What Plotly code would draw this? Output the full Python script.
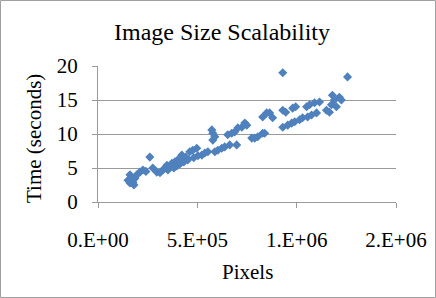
import plotly.graph_objects as go

# Data
pixels = [
    151000, 161000, 161000, 166000, 176000, 181000, 186000, 196000, 211000, 226000,
    241000, 261000, 276000, 296000, 312000, 327000, 337000, 347000, 352000, 362000,
    372000, 382000, 387000, 397000, 402000, 412000, 422000, 432000, 442000, 452000,
    462000, 477000, 482000, 497000, 503000, 523000, 538000, 553000, 573000, 578000,
    578000, 588000, 588000, 603000, 623000, 638000, 653000, 663000, 673000, 688000,
    698000, 704000, 724000, 739000, 749000, 774000, 789000, 804000, 829000, 839000,
    829000, 849000, 864000, 879000, 930000, 930000, 945000, 980000, 995000, 930000,
    955000, 975000, 990000, 1015000, 1030000, 1055000, 1075000, 1100000, 1050000, 1065000,
    1090000, 1115000, 1150000, 1165000, 1175000, 1180000, 1190000, 1200000, 1215000, 1225000,
    1256000,
]
seconds = [
    3.2, 2.8, 4.0, 3.5, 2.9, 2.5, 3.5, 4.0, 4.4, 4.7,
    4.5, 6.6, 5.0, 4.4, 4.3, 4.7, 5.0, 5.4, 4.7, 5.1,
    5.7, 5.0, 5.9, 5.3, 6.2, 5.6, 6.9, 5.9, 6.6, 6.2,
    7.4, 7.6, 6.5, 7.9, 6.8, 6.9, 7.2, 7.4, 10.6, 10.1,
    9.1, 9.6, 7.4, 7.6, 7.9, 8.1, 9.9, 8.4, 10.1, 10.3,
    8.4, 10.9, 11.0, 11.6, 11.3, 9.4, 9.4, 9.6, 10.1, 10.1,
    12.5, 13.1, 13.1, 12.4, 19.0, 13.5, 13.2, 13.8, 14.0, 11.0,
    11.3, 11.6, 11.8, 12.1, 12.4, 12.5, 12.8, 13.1, 14.0, 14.3,
    14.6, 14.7, 13.5, 13.2, 14.3, 15.7, 15.0, 14.0, 15.4, 15.0,
    18.4,
]
x_tick_values = [0, 500000, 1000000, 1500000]
x_tick_labels = ["0.E+00", "5.E+05", "1.E+06", "2.E+06"]
y_tick_values = [0, 5, 10, 15, 20]

FONT = "Liberation Serif, Times New Roman, serif"
GRID = "#9a9a9a"

fig = go.Figure(
    go.Scatter(
        x=pixels,
        y=seconds,
        mode="markers",
        marker=dict(symbol="diamond", size=7, color="#4F81BD", line=dict(width=0)),
        showlegend=False,
    )
)

# plot area: x 98..396 px, y 66..202 px
L, R, T, B = 98, 396, 66, 202
W, H = 436, 298
pw, ph = R - L, B - T

def px(xp):
    return (xp - L) / pw

def py(yp):
    return (B - yp) / ph

fig.update_layout(
    width=W,
    height=H,
    margin=dict(l=L, r=W - R, t=T, b=H - B, pad=0, autoexpand=False),
    paper_bgcolor="white",
    plot_bgcolor="white",
    font=dict(family=FONT, size=20, color="black"),
    title=dict(
        text="Image Size Scalability",
        x=222 / W,
        xanchor="center",
        y=1 - 32 / H,
        yanchor="middle",
        automargin=False,
        font=dict(family=FONT, size=24, color="black"),
    ),
    xaxis=dict(
        range=[0, 1500000],
        tickvals=x_tick_values,
        ticktext=x_tick_labels,
        showgrid=False,
        zeroline=False,
        showline=True,
        linecolor=GRID,
        linewidth=1,
        ticks="outside",
        ticklen=5,
        tickcolor=GRID,
        tickfont=dict(family=FONT, size=21),
        ticklabelstandoff=14,
        automargin=False,
    ),
    yaxis=dict(
        range=[0, 20],
        tickvals=y_tick_values,
        showgrid=True,
        gridcolor=GRID,
        gridwidth=1,
        zeroline=False,
        showline=True,
        linecolor=GRID,
        linewidth=1,
        ticks="outside",
        ticklen=5,
        tickcolor=GRID,
        tickfont=dict(family=FONT, size=21),
        ticklabelstandoff=10,
        automargin=False,
    ),
    annotations=[
        dict(
            text="Pixels",
            xref="paper", yref="paper",
            x=px(247), y=py(272),
            xanchor="center", yanchor="middle",
            showarrow=False,
            font=dict(family=FONT, size=21, color="black"),
        ),
        dict(
            text="Time (seconds)",
            xref="paper", yref="paper",
            x=px(34), y=py(139),
            xanchor="center", yanchor="middle",
            textangle=-90,
            showarrow=False,
            font=dict(family=FONT, size=21, color="black"),
        ),
    ],
    shapes=[
        dict(
            type="rect",
            xref="paper", yref="paper",
            x0=px(0.5), x1=px(435.5),
            y0=py(297.5), y1=py(0.5),
            line=dict(color="#a0a0a0", width=1),
            fillcolor="rgba(0,0,0,0)",
            layer="below",
        )
    ],
)

fig.write_html(
    "out.html",
    config={"displayModeBar": False},
    post_script="document.body.style.margin='0';document.body.style.overflow='hidden';",
)
